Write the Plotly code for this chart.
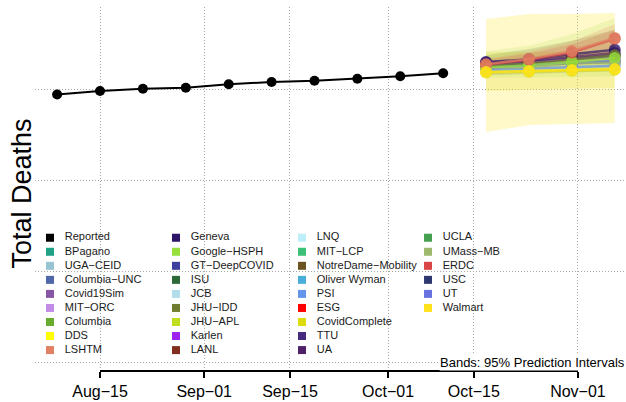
import plotly.graph_objects as go

# ---------------- data ----------------
report_dates = ["2020-08-08", "2020-08-15", "2020-08-22", "2020-08-29", "2020-09-05",
                "2020-09-12", "2020-09-19", "2020-09-26", "2020-10-03", "2020-10-10"]
report_deaths = [15879, 15956, 16007, 16029, 16103, 16154, 16180, 16224, 16279, 16344]

forecast_dates = ["2020-10-17", "2020-10-24", "2020-10-31", "2020-11-07"]

# point forecasts
forecast_point = {
    "USC":           [16520, 16580, 16660, 16740],
    "Columbia-UNC":  [16500, 16530, 16560, 16600],
    "PSI":           [16420, 16450, 16480, 16510],
    "UT":            [16460, 16520, 16580, 16620],
    "Covid19Sim":    [16580, 16610, 16650, 16690],
    "UA":            [16560, 16620, 16700, 16790],
    "Geneva":        [16590, 16650, 16760, 16860],
    "UMass-MB":      [16480, 16470, 16570, 16580],
    "JHU-IDD":       [16500, 16560, 16640, 16740],
    "Google-HSPH":   [16470, 16520, 16590, 16680],
    "ERDC":          [16530, 16640, 16800, 17100],
    "LSHTM":         [16545, 16660, 16835, 17120],
    "CovidComplete": [16360, 16380, 16400, 16420],
    "Walmart":       [16373, 16395, 16417, 16439],
}
# 95% prediction interval bounds
forecast_lower = {
    "Walmart":       [15057, 15210, 15232, 15254],
    "CovidComplete": [15960, 15990, 16010, 16022],
    "Google-HSPH":   [16250, 16250, 16270, 16280],
    "JHU-IDD":       [16300, 16330, 16360, 16390],
    "ERDC":          [16400, 16480, 16560, 16700],
    "LSHTM":         [16420, 16500, 16600, 16800],
}
forecast_upper = {
    "Walmart":       [17536, 17645, 17645, 17667],
    "CovidComplete": [16812, 16812, 16812, 16812],
    "Google-HSPH":   [16830, 16950, 17200, 17560],
    "JHU-IDD":       [16740, 16880, 17060, 17300],
    "ERDC":          [16640, 16780, 16980, 17300],
    "LSHTM":         [16660, 16820, 17050, 17420],
}

legend_names = ["Reported", "BPagano", "UGA\u2212CEID", "Columbia\u2212UNC", "Covid19Sim", "MIT\u2212ORC",
                "Columbia", "DDS", "LSHTM",
                "Geneva", "Google\u2212HSPH", "GT\u2212DeepCOVID", "ISU", "JCB", "JHU\u2212IDD", "JHU\u2212APL",
                "Karlen", "LANL",
                "LNQ", "MIT\u2212LCP", "NotreDame\u2212Mobility", "Oliver Wyman", "PSI", "ESG",
                "CovidComplete", "TTU", "UA",
                "UCLA", "UMass\u2212MB", "ERDC", "USC", "UT", "Walmart"]
legend_colors = ["#000000", "#1fa187", "#98c3d2", "#4f67ab", "#8856a7", "#c28be5",
                 "#6aaa2d", "#ffff00", "#df8162",
                 "#2c1566", "#96df3c", "#3f3f9f", "#2c6a35", "#b0deea", "#707c2e", "#bede1e",
                 "#a020f0", "#842f1e",
                 "#bdeefa", "#3cbf76", "#6b5420", "#4aaedb", "#6495ed", "#ff0000",
                 "#dcdc10", "#452a80", "#4e2068",
                 "#449f4f", "#9eb96c", "#d94545", "#2e3770", "#6771e0", "#ffe31a"]

tick_dates = ["2020-08-15", "2020-09-01", "2020-09-15", "2020-10-01", "2020-10-15", "2020-11-01"]
tick_labels = ["Aug\u221215", "Sep\u221201", "Sep\u221215", "Oct\u221201", "Oct\u221215", "Nov\u221201"]
grid_values = [10000, 12000, 14000, 16000]

# ---------------- helpers ----------------
color_of = {n.replace("\u2212", "-"): c for n, c in zip(legend_names, legend_colors)}
band_alpha = {"Walmart": 0.24, "CovidComplete": 0.22, "Google-HSPH": 0.14,
              "JHU-IDD": 0.2, "ERDC": 0.18, "LSHTM": 0.2}


def rgba(hexcol, a):
    h = hexcol.lstrip("#")
    return "rgba(%d,%d,%d,%.2f)" % (int(h[0:2], 16), int(h[2:4], 16), int(h[4:6], 16), a)


FONT = "Liberation Sans, Arial, Helvetica, sans-serif"
fig = go.Figure()

# bands
for m in forecast_lower:
    col = color_of[m]
    fig.add_trace(go.Scatter(x=forecast_dates, y=forecast_lower[m], mode="lines",
                             line=dict(width=0), showlegend=False, hoverinfo="skip"))
    fig.add_trace(go.Scatter(x=forecast_dates, y=forecast_upper[m], mode="lines",
                             line=dict(width=0), fill="tonexty",
                             fillcolor=rgba(col, band_alpha[m]), showlegend=False, hoverinfo="skip"))

# forecast lines + points
for m, vals in forecast_point.items():
    col = color_of[m]
    fig.add_trace(go.Scatter(x=forecast_dates, y=vals, mode="lines+markers",
                             line=dict(color=rgba(col, 0.7), width=2.5),
                             marker=dict(color=rgba(col, 0.8), size=12),
                             name=m, showlegend=False))

# reported
fig.add_trace(go.Scatter(x=report_dates, y=report_deaths, mode="lines+markers",
                         line=dict(color="black", width=2),
                         marker=dict(color="black", size=10),
                         name="Reported", showlegend=False))

# legend (drawn as a grid of swatches + labels on an overlay axis)
n_rows = 9
leg_col = [i // n_rows for i in range(len(legend_names))]
leg_row = [i % n_rows for i in range(len(legend_names))]
fig.add_trace(go.Scatter(x=leg_col, y=leg_row, mode="markers", xaxis="x2", yaxis="y2",
                         marker=dict(symbol="square", size=8, color=legend_colors,
                                     line=dict(width=0)),
                         showlegend=False, hoverinfo="skip"))
fig.add_trace(go.Scatter(x=[c + 0.117 for c in leg_col], y=leg_row, mode="text", xaxis="x2", yaxis="y2",
                         text=legend_names, textposition="middle right",
                         textfont=dict(size=11, color="#1a1a1a", family=FONT),
                         showlegend=False, hoverinfo="skip"))

grid_style = dict(showgrid=True, gridcolor="#a8a8a8", gridwidth=1, griddash="1px,2px")

fig.update_layout(
    width=626, height=402,
    margin=dict(l=35, r=0, t=7, b=31),
    paper_bgcolor="white", plot_bgcolor="white",
    font=dict(family=FONT, color="black"),
    xaxis=dict(type="date", range=["2020-08-04 09:20", "2020-11-08 20:10"],
               tickvals=tick_dates, ticktext=tick_labels,
               ticks="outside", ticklen=6, tickwidth=2, tickcolor="black",
               tickfont=dict(size=16, color="black"), automargin=False,
               showline=False, zeroline=False, **grid_style),
    yaxis=dict(range=[9813, 17799], tickvals=grid_values, showticklabels=False,
               ticks="", showline=False, zeroline=False, automargin=False,
               **grid_style),
    xaxis2=dict(overlaying="x", anchor="y2", range=[-0.119, 4.571], visible=False),
    yaxis2=dict(overlaying="y", anchor="x2", range=[9.49, -16.43], visible=False),
    showlegend=False,
)

# y-axis title (R-style, rotated)
fig.add_annotation(text="Total Deaths", xref="paper", yref="paper",
                   x=-0.0212, y=0.489, xanchor="center", yanchor="middle",
                   textangle=-90, showarrow=False,
                   font=dict(size=27, color="black", family=FONT))

# R-style axis line spanning first to last tick
fig.add_shape(type="line", xref="x", yref="paper", x0=tick_dates[0], x1=tick_dates[-1],
              y0=0, y1=0, line=dict(color="black", width=2))

fig.add_annotation(text="Bands: 95% Prediction Intervals", xref="paper", yref="y",
                   x=1, y=grid_values[0], xanchor="right", yanchor="middle",
                   showarrow=False, bgcolor="white", borderpad=0,
                   font=dict(size=13, color="black", family=FONT))

fig.write_html("out.html", config={"displayModeBar": False},
               post_script="document.body.style.margin='0';document.body.style.overflow='hidden';")
